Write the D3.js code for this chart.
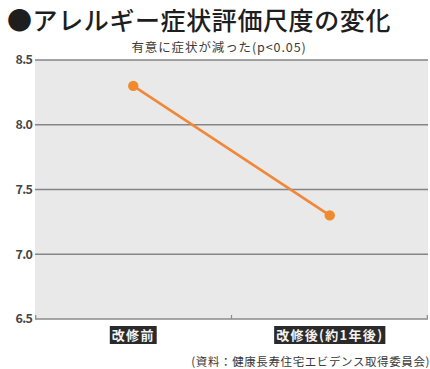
<!DOCTYPE html>
<html>
<head>
<meta charset="utf-8">
<script src="https://cdn.jsdelivr.net/npm/d3@7"></script>
<style>
  html, body { margin: 0; padding: 0; background: #ffffff; }
  svg { display: block; }
  text { font-family: "Noto Sans CJK JP", "Noto Sans", sans-serif; }
</style>
</head>
<body>
<svg id="chart" width="430" height="369"></svg>
<script>
// Allergy symptom rating scale, before and about a year after renovation
const categories = ["改修前", "改修後(約1年後)"];
const scores = [8.3, 7.3];
const yTicks = [6.5, 7.0, 7.5, 8.0, 8.5];
const titleText = "●アレルギー症状評価尺度の変化";
const subtitleText = "有意に症状が減った(p<0.05)";
const sourceText = "(資料：健康長寿住宅エビデンス取得委員会)";

const svg = d3.select("#chart");
const margin = { top: 60, right: 2, bottom: 50, left: 35 };
const W = 430, H = 369;
const innerW = W - margin.left - margin.right;
const innerH = H - margin.top - margin.bottom;

const g = svg.append("g").attr("transform", `translate(${margin.left},${margin.top})`);

const x = d3.scaleBand().domain(categories).range([0, innerW]).padding(0);
const y = d3.scaleLinear().domain([6.5, 8.5]).range([innerH, 0]);

// plot background
g.append("rect")
  .attr("x", 0).attr("y", 0)
  .attr("width", innerW).attr("height", innerH)
  .attr("fill", "#e9e9e9");

// horizontal grid lines
g.selectAll(".grid")
  .data(yTicks.filter(t => t > 6.5))
  .join("line")
  .attr("x1", 0).attr("x2", innerW)
  .attr("y1", d => y(d)).attr("y2", d => y(d))
  .attr("stroke", "#858585")
  .attr("stroke-width", 1.6);

// baseline with small upward ticks at the category boundaries
g.append("line")
  .attr("x1", 0).attr("x2", innerW)
  .attr("y1", y(6.5)).attr("y2", y(6.5))
  .attr("stroke", "#8a8a8a").attr("stroke-width", 1.4);
const bounds = [0, ...categories.map(c => x(c) + x.bandwidth())];
g.selectAll(".xtick")
  .data(bounds)
  .join("line")
  .attr("x1", d => Math.min(Math.max(d, 0.7), innerW - 0.7))
  .attr("x2", d => Math.min(Math.max(d, 0.7), innerW - 0.7))
  .attr("y1", y(6.5)).attr("y2", y(6.5) - 4)
  .attr("stroke", "#8a8a8a").attr("stroke-width", 1.2);

// y tick labels
g.selectAll(".ylabel")
  .data(yTicks)
  .join("text")
  .attr("x", -3)
  .attr("y", d => y(d))
  .attr("dy", "0.35em")
  .attr("text-anchor", "end")
  .attr("font-size", 12.5)
  .attr("font-weight", "bold")
  .attr("fill", "#454545")
  .attr("letter-spacing", -0.8)
  .text(d => d.toFixed(1));

// line and markers
const pts = categories.map((c, i) => ({ c, v: scores[i] }));
const cx = d => x(d.c) + x.bandwidth() / 2;
g.append("path")
  .datum(pts)
  .attr("d", d3.line().x(cx).y(d => y(d.v)))
  .attr("fill", "none")
  .attr("stroke", "#f0883a")
  .attr("stroke-width", 2.6);
g.selectAll(".pt")
  .data(pts)
  .join("circle")
  .attr("cx", cx)
  .attr("cy", d => y(d.v))
  .attr("r", 5.2)
  .attr("fill", "#f08a2c");

// category labels in dark boxes
const catG = g.selectAll(".cat")
  .data(categories)
  .join("g")
  .attr("transform", d => `translate(${x(d) + x.bandwidth() / 2},${innerH + 16})`);
catG.append("text")
  .attr("text-anchor", "middle")
  .attr("dy", "0.35em")
  .attr("font-size", 13)
  .attr("font-weight", "bold")
  .attr("letter-spacing", 1.3)
  .attr("fill", "#f2f2f2")
  .text(d => d)
  .each(function() {
    const b = this.getBBox();
    d3.select(this.parentNode).insert("rect", "text")
      .attr("x", b.x - 2).attr("y", -9)
      .attr("width", b.width + 4).attr("height", 18)
      .attr("fill", "#2a2a2a");
  });

// title, subtitle and source
svg.append("text")
  .attr("x", 7).attr("y", 30)
  .attr("font-size", 25)
  .attr("font-weight", 500)
  .attr("letter-spacing", 0.6)
  .attr("fill", "#1e1e1e")
  .text(titleText);
svg.append("text")
  .attr("x", 219).attr("y", 52)
  .attr("text-anchor", "middle")
  .attr("font-size", 12.5)
  .attr("letter-spacing", 0.9)
  .attr("fill", "#3a3a3a")
  .text(subtitleText);
svg.append("text")
  .attr("x", 430).attr("y", 366)
  .attr("text-anchor", "end")
  .attr("font-size", 11.5)
  .attr("letter-spacing", 0.6)
  .attr("fill", "#3a3a3a")
  .text(sourceText);
</script>
</body>
</html>
